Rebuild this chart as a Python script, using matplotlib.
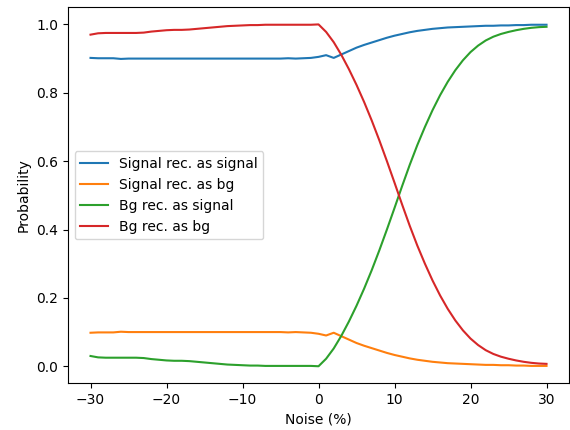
import matplotlib
matplotlib.use("Agg")
import matplotlib.pyplot as plt
import numpy as np

# noise levels in percent, one step per run
noise = list(range(-30, 31))

sig_as_sig = [
    0.902, 0.901, 0.901, 0.901, 0.899, 0.900, 0.900, 0.900, 0.900, 0.900,
    0.900, 0.900, 0.900, 0.900, 0.900, 0.900, 0.900, 0.900, 0.900, 0.900,
    0.900, 0.900, 0.900, 0.900, 0.900, 0.900, 0.901, 0.900, 0.901, 0.902,
    0.905, 0.910, 0.902, 0.912, 0.922, 0.932, 0.940, 0.947, 0.954, 0.961,
    0.967, 0.972, 0.977, 0.981, 0.984, 0.987, 0.989, 0.991, 0.992, 0.993,
    0.994, 0.995, 0.996, 0.996, 0.997, 0.997, 0.998, 0.998, 0.999, 0.999,
    0.999,
]
sig_as_bg = [
    0.098, 0.099, 0.099, 0.099, 0.101, 0.100, 0.100, 0.100, 0.100, 0.100,
    0.100, 0.100, 0.100, 0.100, 0.100, 0.100, 0.100, 0.100, 0.100, 0.100,
    0.100, 0.100, 0.100, 0.100, 0.100, 0.100, 0.099, 0.100, 0.099, 0.098,
    0.095, 0.090, 0.098, 0.088, 0.078, 0.068, 0.060, 0.053, 0.046, 0.039,
    0.033, 0.028, 0.023, 0.019, 0.016, 0.013, 0.011, 0.009, 0.008, 0.007,
    0.006, 0.005, 0.004, 0.004, 0.003, 0.003, 0.002, 0.002, 0.001, 0.001,
    0.001,
]
bg_as_sig = [
    0.030, 0.026, 0.025, 0.025, 0.025, 0.025, 0.025, 0.024, 0.021, 0.019,
    0.017, 0.016, 0.016, 0.015, 0.013, 0.011, 0.009, 0.007, 0.005, 0.004,
    0.003, 0.002, 0.002, 0.001, 0.001, 0.001, 0.001, 0.001, 0.001, 0.001,
    0.000, 0.022, 0.052, 0.089, 0.131, 0.177, 0.227, 0.281, 0.339, 0.400,
    0.463, 0.527, 0.589, 0.647, 0.700, 0.749, 0.793, 0.832, 0.866, 0.895,
    0.919, 0.938, 0.953, 0.964, 0.972, 0.978, 0.983, 0.987, 0.990, 0.992,
    0.993,
]
bg_as_bg = [
    0.970, 0.974, 0.975, 0.975, 0.975, 0.975, 0.975, 0.976, 0.979, 0.981,
    0.983, 0.984, 0.984, 0.985, 0.987, 0.989, 0.991, 0.993, 0.995, 0.996,
    0.997, 0.998, 0.998, 0.999, 0.999, 0.999, 0.999, 0.999, 0.999, 0.999,
    1.000, 0.978, 0.948, 0.911, 0.869, 0.823, 0.773, 0.719, 0.661, 0.600,
    0.537, 0.473, 0.411, 0.353, 0.300, 0.251, 0.207, 0.168, 0.134, 0.105,
    0.081, 0.062, 0.047, 0.036, 0.028, 0.022, 0.017, 0.013, 0.010, 0.008,
    0.007,
]

labels = [
    "Signal rec. as signal",
    "Signal rec. as bg",
    "Bg rec. as signal",
    "Bg rec. as bg",
]

fig = plt.figure(figsize=(5.7, 4.3), dpi=100)
ax = fig.add_axes([0.1188, 0.1085, 0.8800, 0.8745])

for series, lab in zip([sig_as_sig, sig_as_bg, bg_as_sig, bg_as_bg], labels):
    ax.plot(noise, series, label=lab)

ax.set_xlabel("Noise (%)")
ax.set_ylabel("Probability")
ax.legend(loc="center left")

fig.savefig("out.png", dpi=100)
